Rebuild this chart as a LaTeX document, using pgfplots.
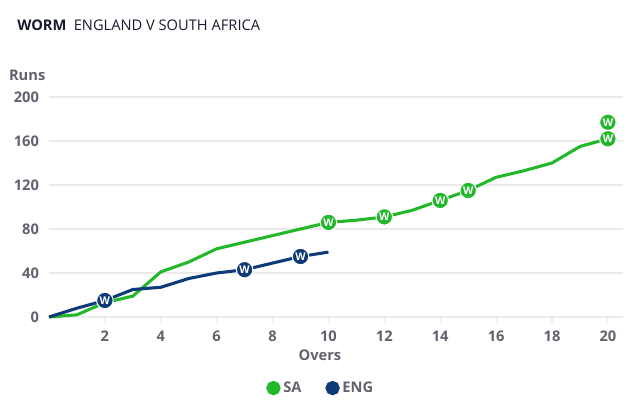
\documentclass[border=0pt]{standalone}
\usepackage{pgfplots}
\pgfplotsset{compat=1.18}
\usepackage{fontspec}
\setmainfont{Open Sans}

\definecolor{sagreen}{HTML}{22B82A}
\definecolor{engnavy}{HTML}{0E3A78}
\definecolor{titleink}{HTML}{161C2C}
\definecolor{tickgray}{HTML}{62626F}
\definecolor{gridgray}{HTML}{EAEAEA}

% runs at the end of each over
\pgfplotstableread{
over runs
0 0
1 2
2 13
3 19
4 41
5 50
6 62
7 68
8 74
9 80
10 86
11 88
12 91
13 97
14 106
15 115
16 127
17 133
18 140
19 155
20 162
}\sadata

\pgfplotstableread{
over runs
0 0
1 8
2 15
3 25
4 27
5 35
6 40
7 43
8 49
9 55
10 59
}\engdata

% wickets
\pgfplotstableread{
over runs
10 86
12 91
14 106
15 115
20 162
20 177
}\sawkts

\pgfplotstableread{
over runs
2 15
7 43
9 55
}\engwkts

\begin{document}
\begin{tikzpicture}
\path[use as bounding box] (-36.75pt,-67.5pt) rectangle ++(480pt,305.25pt);
\node[anchor=base west, text=titleink, font=\fontsize{11}{13}\selectfont, inner sep=0pt] at (-24pt,214.5pt)
  {\textbf{WORM}\hspace{0.5em}ENGLAND V SOUTH AFRICA};
\begin{axis}[
  at={(0,0)}, anchor=south west,
  scale only axis,
  width=430.5pt, height=165pt,
  xmin=0, xmax=20.54,
  ymin=0, ymax=200,
  xtick={2,4,...,20},
  ytick={0,40,...,200},
  axis line style={draw=none},
  ymajorgrids,
  grid style={gridgray, line width=1pt},
  tick pos=left,
  tick align=outside,
  major tick length=4pt,
  x tick style={gridgray, line width=0.8pt},
  y tick style={draw=none},
  ticklabel style={font=\fontsize{11}{13}\selectfont\bfseries, text=tickgray},
  xticklabel style={yshift=-3pt},
  /pgf/number format/assume math mode=true,
  clip=false,
  legend columns=2,
  legend style={at={(0.474,-0.323)}, anchor=center, draw=none,
    font=\fontsize{11}{13}\selectfont\bfseries, text=tickgray,
    /tikz/every even column/.append style={column sep=16pt}},
  legend image code/.code={\fill (0.05cm,0cm) circle (4.2pt);},
]
\addplot[sagreen, line width=2.3pt] table[x=over, y=runs] {\sadata};
\addlegendentry{SA}
\addplot[engnavy, line width=2.3pt] table[x=over, y=runs] {\engdata};
\addlegendentry{ENG}
\addplot[only marks, mark=*, mark size=6.2pt,
  mark options={fill=sagreen, draw=white, line width=0.8pt},
  nodes near coords={W}, nodes near coords align=center,
  every node near coord/.append style={text=white, font=\fontsize{8}{9}\selectfont\bfseries, inner sep=0pt},
  forget plot] table[x=over, y=runs] {\sawkts};
\addplot[only marks, mark=*, mark size=6.2pt,
  mark options={fill=engnavy, draw=white, line width=0.8pt},
  nodes near coords={W}, nodes near coords align=center,
  every node near coord/.append style={text=white, font=\fontsize{8}{9}\selectfont\bfseries, inner sep=0pt},
  forget plot] table[x=over, y=runs] {\engwkts};
\node[font=\fontsize{11}{13}\selectfont\bfseries, text=tickgray] at (axis description cs:0.472,-0.173) {Overs};
\node[font=\fontsize{11}{13}\selectfont\bfseries, text=tickgray] at (axis description cs:-0.038,1.10) {Runs};
\end{axis}
\end{tikzpicture}
\end{document}
